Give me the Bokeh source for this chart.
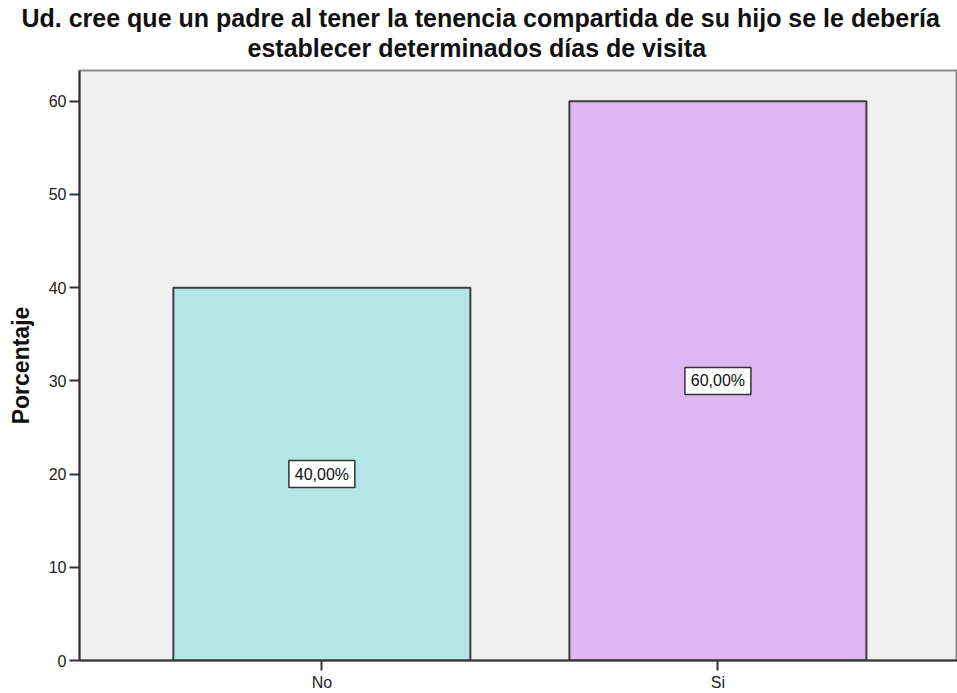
from bokeh.plotting import figure
from bokeh.models import ColumnDataSource, Range1d, FixedTicker, Title
from bokeh.core.properties import value
from bokeh.embed import file_html
from bokeh.resources import INLINE

categories = ["No", "Si"]
percentages = [40.0, 60.0]
bar_colors = ["#b4e6e6", "#deb6f2"]
value_labels = ["40,00%", "60,00%"]
title_lines = ["Ud. cree que un padre al tener la tenencia compartida de su hijo se le debería",
               "establecer determinados días de visita"]
y_ticks = [0, 10, 20, 30, 40, 50, 60]

xs = list(range(len(categories)))
source = ColumnDataSource(data=dict(
    x=xs,
    top=percentages,
    color=bar_colors,
    mid=[v / 2 for v in percentages],
    label=value_labels,
))

FONT = "Liberation Sans"

p = figure(width=957, height=693, output_backend="svg", toolbar_location=None,
           x_range=Range1d(-0.612, 1.605), y_range=Range1d(0, 63.3),
           min_border_left=79, min_border_right=0, min_border_top=70, min_border_bottom=30)

p.title = None
p.add_layout(Title(text=title_lines[1], align="left", offset=168,
                   text_font=FONT, text_font_size="25px",
                   text_font_style="bold", text_color="#111111", standoff=18), "above")
p.add_layout(Title(text=title_lines[0], align="left", offset=-58,
                   text_font=FONT, text_font_size="25px",
                   text_font_style="bold", text_color="#111111", standoff=-19), "above")

p.background_fill_color = "#f0f0f0"
p.border_fill_color = "white"
p.outline_line_color = "#8a8a8a"
p.outline_line_width = 2
p.grid.visible = False

p.vbar(x="x", top="top", width=0.75, bottom=0, source=source,
       fill_color="color", line_color="#3e3e3e", line_width=2)

p.rect(x="x", y="mid", width=66, height=27, width_units="screen", height_units="screen",
       source=source, fill_color="white", line_color="#333333", line_width=1.5)
p.text(x="x", y="mid", text="label", source=source,
       text_align="center", text_baseline="middle",
       text_font=value(FONT), text_font_size="16px", text_color="#111111")

p.yaxis.ticker = FixedTicker(ticks=y_ticks)
p.yaxis.axis_label = "Porcentaje"
p.yaxis.axis_label_text_font = FONT
p.yaxis.axis_label_text_font_size = "23px"
p.yaxis.axis_label_text_font_style = "bold"
p.yaxis.axis_label_text_color = "#111111"
p.yaxis.axis_label_standoff = 12

p.xaxis.ticker = FixedTicker(ticks=xs)
p.xaxis.major_label_overrides = {i: c for i, c in zip(xs, categories)}

for ax in (p.xaxis, p.yaxis):
    ax.major_label_text_font = FONT
    ax.major_label_text_font_size = "16px"
    ax.major_label_text_color = "#222222"
    ax.axis_line_color = "#333333"
    ax.axis_line_width = 2
    ax.major_tick_line_color = "#333333"
    ax.major_tick_line_width = 2
    ax.major_tick_out = 10
    ax.major_tick_in = 0
    ax.minor_tick_line_color = None
p.yaxis.major_label_standoff = 3
p.xaxis.major_label_standoff = 3

open("out.html", "w").write(file_html(p, INLINE))
